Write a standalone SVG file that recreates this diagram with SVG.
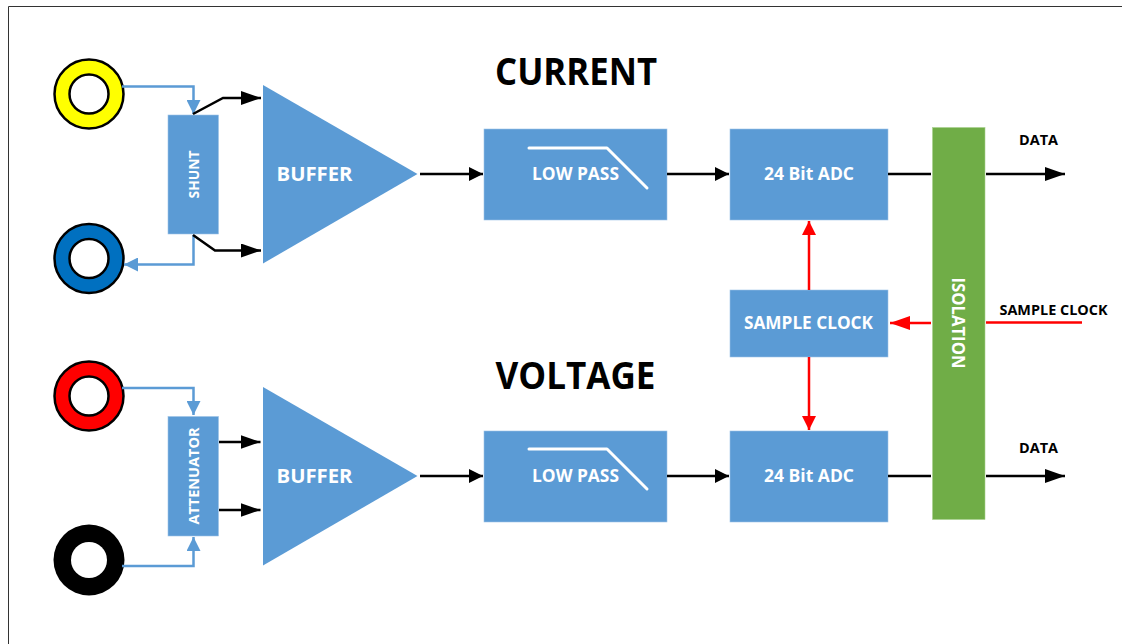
<svg xmlns="http://www.w3.org/2000/svg" width="1122" height="644" viewBox="0 0 1122 644">
<style>
text{font-family:"Open Sans","Noto Sans","Liberation Sans",sans-serif;font-weight:700;text-anchor:middle;fill:#fff}
.b{fill:#5B9BD5;stroke:#9DC3E6;stroke-width:.6}
.g{fill:#70AD47;stroke:#A9D18E;stroke-width:.6}
.j{stroke:#000;stroke-width:2.500}
.l{fill:none;stroke-width:2.500}
.k{stroke:#000}.r{stroke:#f00}.u{stroke:#5B9BD5}
.w{fill:none;stroke:#fff;stroke-width:3;stroke-linecap:round;stroke-linejoin:round}
.lab{font-size:19px}.m{font-size:17px}.sm{font-size:15px}.d{fill:#000;font-size:14px}.t{fill:#000;font-size:37px}
</style>
<defs>
<marker id="ak" markerUnits="userSpaceOnUse" markerWidth="20" markerHeight="14" refX="20" refY="7" orient="auto"><path d="M0 0L20 7L0 14Z" fill="#000"/></marker>
<marker id="aks" markerUnits="userSpaceOnUse" markerWidth="14" markerHeight="14" refX="14" refY="7" orient="auto"><path d="M0 0L14 7L0 14Z" fill="#000"/></marker>
<marker id="ar" markerUnits="userSpaceOnUse" markerWidth="20" markerHeight="14" refX="20" refY="7" orient="auto"><path d="M0 0L20 7L0 14Z" fill="#f00"/></marker>
<marker id="ars" markerUnits="userSpaceOnUse" markerWidth="14" markerHeight="14" refX="14" refY="7" orient="auto"><path d="M0 0L14 7L0 14Z" fill="#f00"/></marker>
<marker id="au" markerUnits="userSpaceOnUse" markerWidth="14" markerHeight="14" refX="14" refY="7" orient="auto"><path d="M0 0L14 7L0 14Z" fill="#5B9BD5"/></marker>
</defs>
<path id="frame" d="M8.500 644V6.500H1122" fill="none" stroke="#333" stroke-width="1"/>
<text class="t" x="576" y="85" textLength="162" lengthAdjust="spacingAndGlyphs">CURRENT</text>
<text class="t" x="575.500" y="389" textLength="160" lengthAdjust="spacingAndGlyphs">VOLTAGE</text>
<g id="jack-yellow"><circle class="j" cx="89" cy="94" r="34.500" fill="#FF0"/><circle class="j" cx="89" cy="94" r="19.500" fill="#fff"/></g>
<g id="jack-blue"><circle class="j" cx="89" cy="258.500" r="34.500" fill="#0070C0"/><circle class="j" cx="89" cy="258.500" r="19.500" fill="#fff"/></g>
<g id="jack-red"><circle class="j" cx="89" cy="396" r="34.500" fill="#F00"/><circle class="j" cx="89" cy="396" r="19.500" fill="#fff"/></g>
<g id="jack-black"><circle cx="89" cy="560" r="35.500" fill="#000"/><circle cx="89" cy="560" r="18" fill="#fff"/></g>
<g id="shunt"><rect class="b" x="168" y="115" width="50.500" height="119"/><text class="sm" transform="translate(198.500 174.500) rotate(-90)" textLength="48" lengthAdjust="spacingAndGlyphs">SHUNT</text></g>
<g id="attenuator"><rect class="b" x="168" y="416.500" width="50.500" height="119.500"/><text class="sm" transform="translate(198.500 476) rotate(-90)" textLength="97" lengthAdjust="spacingAndGlyphs">ATTENUATOR</text></g>
<g id="buffer1"><path class="b" style="stroke:none" d="M263 85L417.500 174L263 263.500Z"/><text class="lab" x="314.500" y="181" textLength="76" lengthAdjust="spacingAndGlyphs">BUFFER</text></g>
<g id="buffer2"><path class="b" style="stroke:none" d="M263 387L417.500 476L263 565.500Z"/><text class="lab" x="314.500" y="483" textLength="76" lengthAdjust="spacingAndGlyphs">BUFFER</text></g>
<g id="lowpass1"><rect class="b" x="484" y="129" width="183" height="91"/><path class="w" d="M529 148H607L647 188"/><text class="m" x="575.500" y="180" textLength="87" lengthAdjust="spacingAndGlyphs">LOW PASS</text></g>
<g id="lowpass2"><rect class="b" x="484" y="431" width="183" height="91"/><path class="w" d="M529 449H607L647 489"/><text class="m" x="575.500" y="482" textLength="87" lengthAdjust="spacingAndGlyphs">LOW PASS</text></g>
<g id="adc1"><rect class="b" x="730" y="129" width="158" height="91"/><text class="m" x="809" y="180" textLength="90" lengthAdjust="spacingAndGlyphs">24 Bit ADC</text></g>
<g id="adc2"><rect class="b" x="730" y="431" width="158" height="91"/><text class="m" x="809" y="482" textLength="90" lengthAdjust="spacingAndGlyphs">24 Bit ADC</text></g>
<g id="clock"><rect class="b" x="730" y="290" width="158" height="67"/><text class="m" x="808.500" y="329" textLength="129" lengthAdjust="spacingAndGlyphs">SAMPLE CLOCK</text></g>
<g id="isolation"><rect class="g" x="932.500" y="127.500" width="52.500" height="392"/><text class="m" transform="translate(952 323) rotate(90)" textLength="91" lengthAdjust="spacingAndGlyphs">ISOLATION</text></g>
<text class="d" x="1038.500" y="145" textLength="39" lengthAdjust="spacingAndGlyphs">DATA</text>
<text class="d" x="1038.500" y="453" textLength="39" lengthAdjust="spacingAndGlyphs">DATA</text>
<text class="d" x="1053.500" y="315" textLength="108" lengthAdjust="spacingAndGlyphs">SAMPLE CLOCK</text>
<g id="connectors">
<path class="l u" marker-end="url(#au)" d="M122 86.500H193.500V114"/>
<path class="l u" marker-end="url(#au)" d="M193.500 235V264.500H124"/>
<path class="l u" marker-end="url(#au)" d="M122 388H193.500V415"/>
<path class="l u" marker-end="url(#au)" d="M122 566H193.500V537"/>
<path class="l k" marker-end="url(#ak)" d="M193 114L223 98H261"/>
<path class="l k" marker-end="url(#ak)" d="M193 235L215 250.500H261"/>
<path class="l k" marker-end="url(#ak)" d="M219 442H260.500"/>
<path class="l k" marker-end="url(#ak)" d="M219 510H260.500"/>
<path class="l k" marker-end="url(#aks)" d="M420 174H483"/>
<path class="l k" marker-end="url(#aks)" d="M420 476H483"/>
<path class="l k" marker-end="url(#aks)" d="M667 174H729"/>
<path class="l k" marker-end="url(#aks)" d="M667 476H729"/>
<path class="l k" d="M888 174H931"/>
<path class="l k" d="M888 476H931"/>
<path class="l k" marker-end="url(#ak)" d="M986 174H1065"/>
<path class="l k" marker-end="url(#ak)" d="M986 476H1065"/>
<path class="l r" marker-end="url(#ar)" d="M931 323H890"/>
<path class="l r" d="M986 322.500H1082"/>
<path class="l r" marker-end="url(#ars)" d="M809 290V221"/>
<path class="l r" marker-end="url(#ars)" d="M809 357V430"/>
</g>
</svg>
